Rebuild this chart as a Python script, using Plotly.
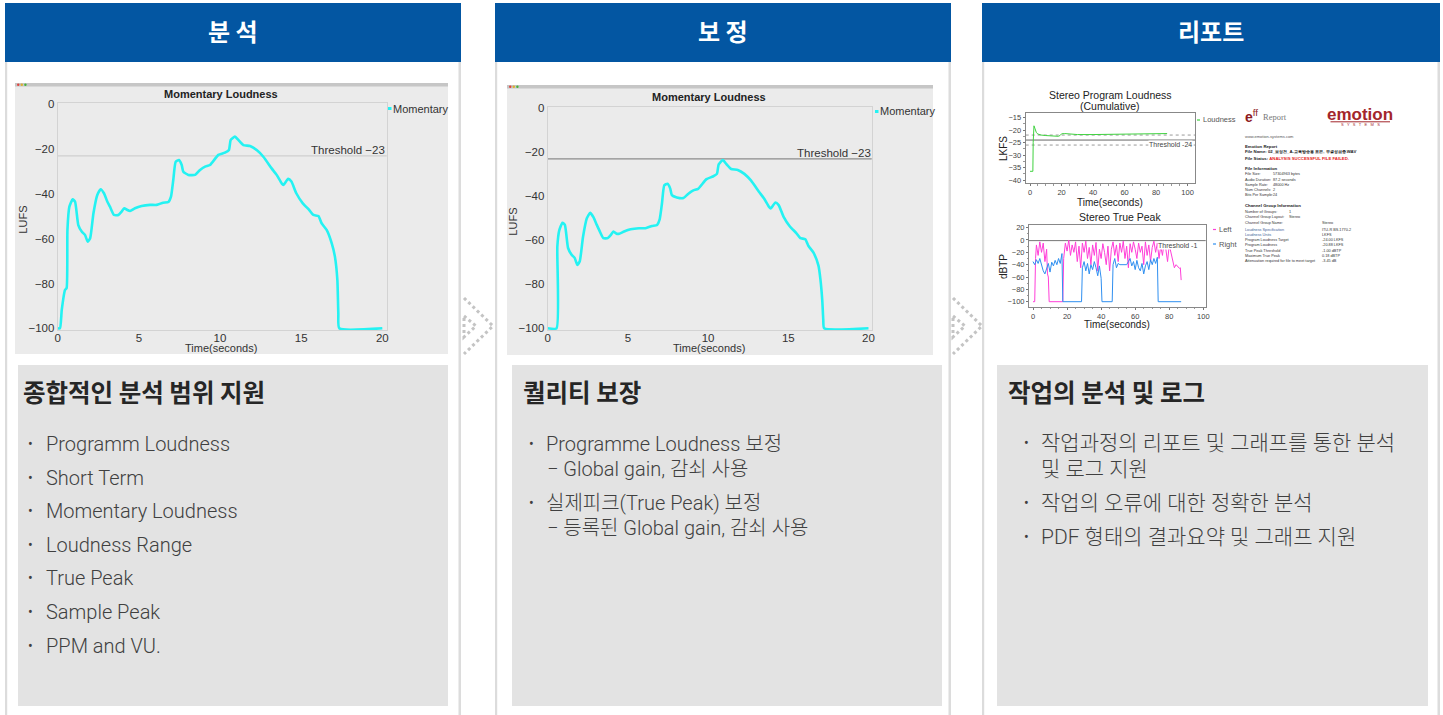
import plotly.graph_objects as go

W, H = 1443, 715

# ---------------- data ----------------
headers = ["분 석", "보 정", "리포트"]
panel_titles = ["종합적인 분석 범위 지원", "퀄리티 보장", "작업의 분석 및 로그"]
panel1_items = ["Programm Loudness", "Short Term", "Momentary Loudness", "Loudness Range",
                "True Peak", "Sample Peak", "PPM and VU."]
panel2_items = [("•", "Programme Loudness 보정"), ("", "− Global gain, 감쇠 사용"),
                ("•", "실제피크(True Peak) 보정"), ("", "− 등록된 Global gain, 감쇠 사용")]
panel3_items = [("•", "작업과정의 리포트 및 그래프를 통한 분석"), ("", "및 로그 지원"),
                ("•", "작업의 오류에 대한 정확한 분석"), ("•", "PDF 형태의 결과요약 및 그래프 지원")]

# Momentary loudness (analysis)
m1_time = [0, 0.14, 0.25, 0.45, 0.55, 0.6, 0.72, 0.92, 1.07, 1.27, 1.48, 1.68, 1.85, 2.0, 2.2, 2.44,
           2.65, 2.85, 3.06, 3.22, 3.47, 3.74, 3.94, 4.1, 4.29, 4.46, 4.76, 5.17, 5.69, 6.1, 6.5, 6.82,
           6.98, 7.12, 7.27, 7.47, 7.64, 7.74, 8.05, 8.46, 8.77, 9.08, 9.38, 9.9, 10.3, 10.55, 10.66,
           10.92, 11.13, 11.44, 11.85, 12.26, 12.67, 13.18, 13.49, 13.8, 13.9, 14.2, 14.4, 14.7, 15.1,
           15.5, 15.75, 16.06, 16.26, 16.57, 16.88, 17.08, 17.23, 17.29, 17.35, 20]
m1_lufs = [-100, -100, -91.8, -82.9, -82, -56, -45.7, -42.4, -43.5, -53.9, -56.8, -58.3, -61.3, -59.8,
           -48.7, -40.5, -37.9, -39.7, -43.5, -45.7, -49.4, -49.4, -47.9, -46.4, -47.2, -47.6, -46.4,
           -45.4, -44.9, -44.9, -43.9, -43.6, -41.2, -33.8, -25.6, -24.9, -27.1, -30.1, -31.5, -31.5,
           -29.3, -27.8, -27.1, -22.6, -21.6, -20.4, -15.9, -14.4, -15.9, -18.2, -18.6, -20.4, -23.4,
           -28.6, -31.5, -35.3, -36, -33.3, -34.5, -39.7, -44.2, -47.2, -49.4, -49.9, -53.1, -56.1,
           -62, -68, -78.4, -93.3, -100, -100]

# Momentary loudness (corrected)
m2_time = [0, 0.55, 0.6, 0.72, 0.92, 1.07, 1.27, 1.48, 1.68, 1.85, 2.0, 2.2, 2.44, 2.65, 2.85, 3.06,
           3.22, 3.47, 3.74, 3.94, 4.1, 4.29, 4.46, 4.76, 5.17, 5.69, 6.1, 6.5, 6.82, 6.98, 7.12, 7.27,
           7.47, 7.64, 7.74, 8.05, 8.46, 8.77, 9.08, 9.38, 9.9, 10.3, 10.55, 10.66, 10.92, 11.13, 11.44,
           11.85, 12.26, 12.67, 13.18, 13.49, 13.8, 13.9, 14.2, 14.4, 14.7, 15.1, 15.5, 15.75, 16.06,
           16.26, 16.57, 16.88, 17.0, 17.12, 17.18, 17.24, 20]
m2_lufs = [-100, -100, -63, -55.5, -52, -53, -63.5, -66.5, -68, -71.2, -69.5, -58.5, -50, -47.5, -49.5,
           -53, -55.5, -59, -59, -57.5, -56, -57, -57, -56, -55, -54.5, -54.5, -53.5, -53, -50.5, -43.5,
           -35, -34.3, -36.5, -39.5, -40.5, -40.8, -38.8, -37.3, -36.6, -32.2, -31, -29.8, -25.5, -23.5,
           -25.3, -27.6, -28, -29.8, -32.8, -38, -41, -44.8, -45.5, -42.8, -44, -49.2, -53.7, -56.7,
           -59, -59.5, -62.6, -65.6, -71.5, -77.5, -87.5, -96, -100, -100]
threshold_lufs = -23

# Report: stereo program loudness (cumulative)
pl_time = [0, 1.8, 2.0, 2.5, 3.2, 4, 5, 7, 10, 15, 18, 19, 20, 22, 30, 40, 50, 60, 62, 70, 80, 87]
pl_lkfs = [-36.5, -36.5, -25, -18.3, -19.5, -21, -21.6, -22, -22.2, -22.3, -22.5, -22.2, -21.5, -21.4,
           -21.8, -21.8, -21.7, -21.6, -21.4, -21.5, -21.5, -21.4]
pl_threshold = -24
pl_tolerance = [-22, -26]

# Report: stereo true peak
tp_left_t = [0, 1, 1.5, 2, 3, 4, 5, 6, 7, 8, 8.5, 9, 9.5, 17.5, 18, 19, 20, 21, 22, 23, 24, 25, 26, 27,
             28, 29, 30, 31, 32, 33, 34, 35, 36, 37, 38, 39, 40, 41, 42, 43, 44, 45, 46, 47, 48, 49, 50,
             51, 52, 53, 54, 55, 56, 57, 58, 59, 60, 61, 62, 63, 64, 65, 66, 67, 68, 69, 70, 71, 72, 73,
             74, 75, 76, 77, 78, 79, 80, 81, 82, 83, 84, 85, 86, 86.5, 87]
tp_left = [-100, -100, -30, -8, -25, -3, -20, -5, -35, -15, -55, -60, -100, -100, -30, -5, -18, 0, -25,
           -8, -20, -3, -35, -10, -45, -5, -20, -2, -30, -12, -40, -8, -25, -4, -50, -15, -30, -6, -20,
           -40, -10, -50, -15, -3, -25, -8, -35, -5, -20, -2, -30, -10, -45, -6, -20, -3, -15, -30, -5,
           -20, -10, -40, -3, -25, -8, -35, -12, -2, -20, -5, -30, -10, -25, -4, -15, -35, -8, -20, -30,
           -45, -40, -43, -46, -45, -65]
tp_right_t = [0, 1, 2, 3, 4, 5, 6, 7, 8, 9, 10, 11, 12, 13, 14, 15, 16, 17, 17.5, 28.5, 29, 30, 31, 32,
              33, 34, 35, 36, 37, 38, 39, 40, 40.5, 46.5, 47, 48, 49, 50, 51, 52, 53, 54, 55, 56, 57, 58,
              59, 60, 61, 62, 63, 64, 65, 66, 67, 68, 69, 70, 71, 72, 73, 73.5, 87]
tp_right = [-35, -40, -32, -38, -30, -42, -50, -55, -48, -38, -52, -36, -42, -33, -40, -30, -38, -22,
            -100, -100, -45, -35, -50, -38, -55, -40, -48, -35, -45, -58, -42, -62, -100, -100, -40, -30,
            -45, -38, -40, -40, -40, -40, -40, -35, -30, -42, -35, -48, -33, -45, -50, -38, -55, -42,
            -35, -48, -32, -40, -30, -38, -28, -100, -100]
tp_threshold = -1

report_lines = [
    ("www.emotion-systems.com", "", "n"),
    ("Emotion Report", "", "b"),
    ("File Name: 02_보정전_A-교육방송용 표본, 무결성검증.WAV", "", "b"),
    ("File Status: ", "ANALYSIS SUCCESSFUL FILE FAILED.", "r"),
    ("File Information", "", "b"),
    ("File Size:", "57304963 bytes", "v1"),
    ("Audio Duration:", "87.2 seconds", "v1"),
    ("Sample Rate:", "48000 Hz", "v1"),
    ("Num Channels:", "2", "v1"),
    ("Bits Per Sample:", "24", "v1"),
    ("Channel Group Information", "", "b"),
    ("Number of Groups:", "1", "v2"),
    ("Channel Group Layout:", "Stereo", "v2"),
    ("Channel Group Name:", "Stereo", "v3"),
    ("Loudness Specification", "ITU-R BS.1770-2", "v3"),
    ("Loudness Units", "LKFS", "v3"),
    ("Program Loudness Target", "-24.00 LKFS", "v3"),
    ("Program Loudness", "-20.88 LKFS", "v3"),
    ("True Peak Threshold", "-1.00 dBTP", "v3"),
    ("Maximum True Peak", "0.18 dBTP", "v3"),
    ("Attenuation required for file to meet target", "-3.45 dB", "v3"),
]

# ---------------- helpers ----------------
def fx(x):
    return x / W


def fy(y):
    return 1 - y / H


shapes = []
annotations = []


def rect(x0, y0, x1, y1, color, layer="below"):
    shapes.append(dict(type="rect", xref="paper", yref="paper", x0=fx(x0), x1=fx(x1), y0=fy(y1), y1=fy(y0),
                       fillcolor=color, line=dict(width=0), layer=layer))


def seg(x0, y0, x1, y1, color, width=1, dash="solid", layer="above"):
    shapes.append(dict(type="line", xref="paper", yref="paper", x0=fx(x0), x1=fx(x1), y0=fy(y0), y1=fy(y1),
                       line=dict(color=color, width=width, dash=dash), layer=layer))


def ann(x, y, s, size, color, family, xanchor="left", yanchor="middle", angle=0, bg=None, weight=None):
    font = dict(size=size, color=color, family=family)
    if weight:
        font["weight"] = weight
    d = dict(x=fx(x), y=fy(y), xref="paper", yref="paper", text=s, showarrow=False, xanchor=xanchor,
             yanchor=yanchor, font=font, textangle=angle, borderpad=0)
    if bg:
        d["bgcolor"] = bg
    annotations.append(d)


KR = "Roboto, 'Noto Sans CJK KR', sans-serif"
KRB = "'Noto Sans CJK KR', sans-serif"
CH = "'Liberation Sans', Arial, sans-serif"
BLUE = "#0356a2"
BORDER = "#dcdcdc"
PANEL = "#e3e3e3"

# ---------------- page structure ----------------
cols = [(5, 461), (495, 951), (982, 1440)]
for (x0, x1), h in zip(cols, headers):
    rect(x0, 3, x1, 62, BLUE)
    ann((x0 + x1) / 2, 31, "<b>" + h + "</b>", 24, "white", KRB, xanchor="center")
    rect(x0, 62, x0 + 2.2, 715, BORDER)
    rect(x1 - 2.5, 62, x1, 715, BORDER)

panels = [(18, 448), (512, 942), (997, 1428)]
for (x0, x1) in panels:
    rect(x0, 365, x1, 706, PANEL)

# text panels
TXT = "#404040"
ann(22, 391, "<b>" + panel_titles[0] + "</b>", 24.5, "#262626", KRB)
ann(522, 391, "<b>" + panel_titles[1] + "</b>", 24.5, "#262626", KRB)
ann(1007, 391, "<b>" + panel_titles[2] + "</b>", 24.5, "#262626", KRB)

p1_y = [444, 478, 511, 545, 578, 612, 646]
for yy, s in zip(p1_y, panel1_items):
    ann(27, yy, "•", 14, TXT, KR)
    ann(45, yy, s, 20, TXT, KR, weight=300)

p2_y = [444, 469, 503, 528]
for yy, (b, s) in zip(p2_y, panel2_items):
    if b:
        ann(528, yy, b, 14, TXT, KR)
        ann(545, yy, s, 20, TXT, KR, weight=300)
    else:
        ann(546, yy, s, 20, TXT, KR, weight=300)

p3_y = [443, 469, 503, 537]
for yy, (b, s) in zip(p3_y, panel3_items):
    if b:
        ann(1023, yy, b, 14, TXT, KR)
    ann(1040, yy, s, 21, TXT, KR, weight=300)

# arrows (dotted chevrons)
for ax0 in (464, 953):
    pts = [(ax0, 298), (ax0 + 29, 326), (ax0, 354)]
    path = "M " + " L ".join(f"{fx(px)},{fy(py)}" for px, py in pts)
    shapes.append(dict(type="path", xref="paper", yref="paper", path=path,
                       line=dict(color="#c4c4c4", width=3, dash="dot"), layer="above"))
    pts2 = [(ax0, 316), (ax0 + 12, 326), (ax0, 337)]
    path2 = "M " + " L ".join(f"{fx(px)},{fy(py)}" for px, py in pts2) + " Z"
    shapes.append(dict(type="path", xref="paper", yref="paper", path=path2,
                       line=dict(color="#c4c4c4", width=3, dash="dot"), layer="above"))

# ---------------- chart images (momentary loudness) ----------------
chart_imgs = [
    dict(bg=(15, 83, 448, 354), dom_x=(57.7, 386.7), dom_y=(103.2, 330.1), scale=2.24, xr=[0, 20.27],
         title_y=94.5, thr_color="#cfcfcf", thr_text_x=386, thr_text_y=150,
         leg=(388, 108.5), ylab_x=23, xlab_y=347.5, t=m1_time, v=m1_lufs),
    dict(bg=(507, 85, 933, 355), dom_x=(547.7, 871.7), dom_y=(107.2, 330.1), scale=2.2, xr=[0, 20.2],
         title_y=97.5, thr_color="#8c8c8c", thr_text_x=871.5, thr_text_y=152.5,
         leg=(875, 111.5), ylab_x=513, xlab_y=347.5, t=m2_time, v=m2_lufs),
]

data = []
layout_axes = {}
for i, c in enumerate(chart_imgs):
    bx0, by0, bx1, by1 = c["bg"]
    rect(bx0, by0, bx1, by1, "#ebebeb")
    rect(bx0, by0, bx1, by0 + 3.5, "#c6c6c6")
    for k, colr in enumerate(["#e0443e", "#dfae2c", "#45b33b"]):
        shapes.append(dict(type="circle", xref="paper", yref="paper",
                           x0=fx(bx0 + 2 + k * 3.6), x1=fx(bx0 + 4.4 + k * 3.6),
                           y0=fy(by0 + 2.9), y1=fy(by0 + 0.5), fillcolor=colr, line=dict(width=0),
                           layer="below"))
    n = "" if i == 0 else str(i + 1)
    xa, ya = "x" + n, "y" + n
    ytop = 0.5
    ybot = ytop - (c["dom_y"][1] - c["dom_y"][0]) / c["scale"]
    layout_axes["xaxis" + n] = dict(domain=[fx(c["dom_x"][0]), fx(c["dom_x"][1])], range=c["xr"],
                                    anchor=ya, tickvals=[0, 5, 10, 15, 20], showgrid=False, zeroline=False,
                                    ticks="", showline=True, linecolor="#d3d3d3", linewidth=1, mirror=True,
                                    automargin=False, ticklabelstandoff=-3,
                                    tickfont=dict(size=11.5, color="#333", family=CH), fixedrange=True)
    layout_axes["yaxis" + n] = dict(domain=[fy(c["dom_y"][1]), fy(c["dom_y"][0])], range=[ybot, ytop],
                                    anchor=xa, tickvals=[0, -20, -40, -60, -80, -100], showgrid=False,
                                    zeroline=False, ticks="", showline=True, linecolor="#d3d3d3",
                                    linewidth=1, mirror=True, automargin=False,
                                    tickfont=dict(size=11.5, color="#333", family=CH), fixedrange=True)
    # threshold line
    shapes.append(dict(type="line", xref=xa + " domain", yref=ya, x0=0, x1=1, y0=threshold_lufs,
                       y1=threshold_lufs, line=dict(color=c["thr_color"], width=1.3), layer="below"))
    data.append(go.Scatter(x=c["t"], y=c["v"], xaxis=xa, yaxis=ya, mode="lines",
                           line=dict(color="#24f2f2", width=2.6, shape="spline", smoothing=0.5),
                           hoverinfo="skip", showlegend=False))
    cx = (c["dom_x"][0] + c["dom_x"][1]) / 2
    ann(cx - 1, c["title_y"], "<b>Momentary Loudness</b>", 11, "#222", CH, xanchor="center")
    ann(c["thr_text_x"], c["thr_text_y"], f"Threshold {threshold_lufs}".replace("-", "−"), 11.5, "#333", CH,
        xanchor="right")
    lx, ly = c["leg"]
    seg(lx, ly, lx + 3.5, ly, "#24f2f2", width=3)
    ann(lx + 4, ly, "Momentary", 11, "#333", CH)
    ann(c["ylab_x"], (c["dom_y"][0] + c["dom_y"][1]) / 2 + 3, "LUFS", 11, "#333", CH, xanchor="center",
        angle=-90)
    ann(cx - 1, c["xlab_y"], "Time(seconds)", 11, "#333", CH, xanchor="center")

# ---------------- report charts ----------------
RC = "#444"
common = dict(showgrid=False, zeroline=False, ticks="outside", ticklen=2, tickcolor="#777", showline=True,
              linecolor="#888", mirror=True, tickfont=dict(size=7.5, color=RC, family=CH), fixedrange=True,
              automargin=False)
layout_axes["xaxis3"] = dict(domain=[fx(1025.7), fx(1195)], range=[-2.75, 104.7], anchor="y3",
                             tickvals=[0, 20, 40, 60, 80, 100],
                             minor=dict(ticks="outside", ticklen=1.5, dtick=5, tickcolor="#999"), **common)
layout_axes["yaxis3"] = dict(domain=[fy(183.3), fy(113.3)], range=[-41.3, -13.3], anchor="x3",
                             tickvals=[-15, -20, -25, -30, -35, -40],
                             minor=dict(ticks="outside", ticklen=1.5, dtick=2.5, tickcolor="#999"), **common)
layout_axes["xaxis4"] = dict(domain=[fx(1029), fx(1205.7)], range=[-2.35, 101.4], anchor="y4",
                             tickvals=[0, 20, 40, 60, 80, 100],
                             minor=dict(ticks="outside", ticklen=1.5, dtick=5, tickcolor="#999"), **common)
layout_axes["yaxis4"] = dict(domain=[fy(306.7), fy(225)], range=[-108.1, 24.3], anchor="x4",
                             tickvals=[20, 0, -20, -40, -60, -80, -100],
                             minor=dict(ticks="outside", ticklen=1.5, dtick=10, tickcolor="#999"), **common)

for yv in pl_tolerance:
    shapes.append(dict(type="line", xref="x3 domain", yref="y3", x0=0, x1=1, y0=yv, y1=yv,
                       line=dict(color="#999", width=1, dash="dot"), layer="below"))
shapes.append(dict(type="line", xref="x3 domain", yref="y3", x0=0, x1=1, y0=pl_threshold, y1=pl_threshold,
                   line=dict(color="#666", width=1), layer="below"))
data.append(go.Scatter(x=pl_time, y=pl_lkfs, xaxis="x3", yaxis="y3", mode="lines",
                       line=dict(color="#3fd23f", width=1), hoverinfo="skip", showlegend=False))

shapes.append(dict(type="line", xref="x4 domain", yref="y4", x0=0, x1=1, y0=tp_threshold, y1=tp_threshold,
                   line=dict(color="#777", width=1), layer="below"))
data.append(go.Scatter(x=tp_left_t, y=tp_left, xaxis="x4", yaxis="y4", mode="lines",
                       line=dict(color="#ff3fd8", width=1), hoverinfo="skip", showlegend=False))
data.append(go.Scatter(x=tp_right_t, y=tp_right, xaxis="x4", yaxis="y4", mode="lines",
                       line=dict(color="#2f8ff0", width=1), hoverinfo="skip", showlegend=False))

ann(1110, 95, "Stereo Program Loudness", 10.5, "#222", CH, xanchor="center")
ann(1110, 106.5, "(Cumulative)", 10.5, "#222", CH, xanchor="center")
ann(1003, 148, "LKFS", 10, "#222", CH, xanchor="center", angle=-90)
ann(1110, 202, "Time(seconds)", 10, "#222", CH, xanchor="center")
ann(1193, 144.5, f"Threshold {pl_threshold}", 7, "#444", CH, xanchor="right", bg="white")
seg(1197, 120, 1200, 120, "#3fd23f", width=1.2)
ann(1202, 120, "Loudness", 7.5, "#555", CH)

ann(1120, 216.5, "Stereo True Peak", 10.5, "#222", CH, xanchor="center")
ann(1003, 266, "dBTP", 10, "#222", CH, xanchor="center", angle=-90)
ann(1117, 324, "Time(seconds)", 10, "#222", CH, xanchor="center")
ann(1198, 245, f"Threshold {tp_threshold}", 7, "#444", CH, xanchor="right", bg="white")
seg(1213, 229.5, 1216, 229.5, "#ff3fd8", width=1.2)
ann(1218, 229.5, "Left", 7.5, "#555", CH)
seg(1213, 244, 1216, 244, "#2f8ff0", width=1.2)
ann(1218, 244, "Right", 7.5, "#555", CH)

# report header / logo
ann(1244, 116, "<b>e</b><sup>ff</sup>", 14, "#8e1b1e", CH)
ann(1262, 117, "Report", 8.5, "#777", "'Liberation Serif', serif")
ann(1360, 114, "<b>emotion</b>", 17, "#a3262b", CH, xanchor="center")
seg(1330.5, 121.8, 1390, 121.8, "#a3262b", width=1)
ann(1360, 124.8, "S   Y   S   T   E   M   S", 4, "#a3262b", CH, xanchor="center")

rl_y = [136, 146, 151.7, 158.3, 169, 174.3, 179.7, 185, 190, 195.3, 206, 211.7, 216.7, 223.3, 230, 235,
        240.3, 245.3, 250.7, 255.7, 261]
for yy, (lab, val, kind) in zip(rl_y, report_lines):
    if kind == "b":
        ann(1244.3, yy, "<b>" + lab + "</b>", 4.3, "#222", CH)
    elif kind == "n":
        ann(1244.3, yy, lab, 4, "#555", CH)
    elif kind == "r":
        ann(1244.3, yy, "<b>" + lab + "</b><b><span style='color:#e52222'>" + val + "</span></b>", 4.3,
            "#222", CH)
    else:
        vx = {"v1": 1271.7, "v2": 1288, "v3": 1321}[kind]
        col = "#3d5f99" if lab in ("Loudness Specification", "Loudness Units") else "#333"
        ann(1244.3, yy, lab, 3.8, col, CH)
        ann(vx, yy, val, 3.8, "#333", CH)

fig = go.Figure(data=data)
fig.update_layout(width=W, height=H, autosize=False,
                  margin=dict(l=0, r=0, t=0, b=0, pad=0, autoexpand=False),
                  paper_bgcolor="white", plot_bgcolor="rgba(0,0,0,0)", showlegend=False,
                  shapes=shapes, annotations=annotations, **layout_axes)
fig.write_html("out.html", config={"displayModeBar": False},
               post_script="document.body.style.margin='0';document.body.style.overflow='hidden';")
